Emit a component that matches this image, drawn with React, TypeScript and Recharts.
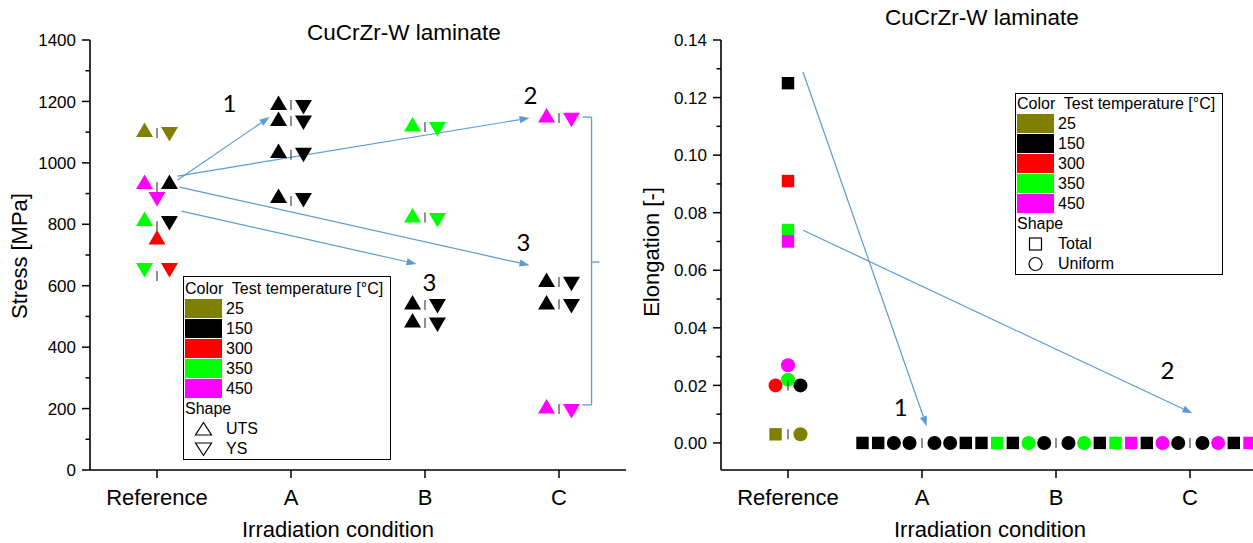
import React from 'react';
import { ScatterChart, Scatter, XAxis, YAxis, ReferenceLine, ReferenceDot } from 'recharts';

// ---------- categories / legend ----------
const conditions = ['Reference', 'A', 'B', 'C'];
const tempLabels = ['25', '150', '300', '350', '450'];
const tempColors = ['#808000', '#000000', '#FF0000', '#00FF00', '#FF00FF'];
const stressTicks = [0, 100, 200, 300, 400, 500, 600, 700, 800, 900, 1000, 1100, 1200, 1300, 1400];
const elongTicks = [0, 0.01, 0.02, 0.03, 0.04, 0.05, 0.06, 0.07, 0.08, 0.09, 0.1, 0.11, 0.12, 0.13, 0.14];

// [condition, slot within the category, value]
type P = [string, number, number];

// ---------- Stress (UTS = up triangle, YS = down triangle) ----------
const uts25: P[] = [['Reference', -1, 1107]];
const ys25: P[] = [['Reference', 1, 1094]];
const uts150: P[] = [
  ['Reference', 1, 938], ['A', -1, 1195], ['A', -1, 1143], ['A', -1, 1039], ['A', -1, 892],
  ['B', -1, 545], ['B', -1, 487], ['C', -1, 619], ['C', -1, 545],
];
const ys150: P[] = [
  ['Reference', 1, 804], ['A', 1, 1182], ['A', 1, 1131], ['A', 1, 1026], ['A', 1, 879],
  ['B', 1, 534], ['B', 1, 474], ['C', 1, 606], ['C', 1, 534],
];
const uts300: P[] = [['Reference', 0, 757]];
const ys300: P[] = [['Reference', 1, 651]];
const uts350: P[] = [['Reference', -1, 817], ['B', -1, 1125], ['B', -1, 829]];
const ys350: P[] = [['Reference', -1, 651], ['B', 1, 1110], ['B', 1, 814]];
const uts450: P[] = [['Reference', -1, 938], ['C', -1, 1154], ['C', -1, 207]];
const ys450: P[] = [['Reference', 0, 882], ['C', 1, 1140], ['C', 1, 192]];
const stressSeparators: P[] = [
  ['Reference', 0, 1097], ['Reference', 0, 921], ['Reference', 0, 794], ['Reference', 0, 632],
  ['A', 0, 1188], ['A', 0, 1136], ['A', 0, 1026], ['A', 0, 876],
  ['B', 0, 1117], ['B', 0, 822], ['B', 0, 537], ['B', 0, 479],
  ['C', 0, 1146], ['C', 0, 612], ['C', 0, 540], ['C', 0, 199],
];

// ---------- Elongation (Total = square, Uniform = circle) ----------
const total25: P[] = [['Reference', -1, 0.003]];
const uniform25: P[] = [['Reference', 1, 0.003]];
const total150: P[] = [
  ['Reference', 0, 0.125], ['A', -4, 0], ['A', -3, 0], ['A', 3, 0], ['A', 4, 0], ['A', 6, 0],
  ['B', 3, 0], ['B', 6, 0], ['C', 3, 0],
];
const uniform150: P[] = [
  ['Reference', 1, 0.02], ['A', -2, 0], ['A', -1, 0], ['A', 1, 0], ['A', 2, 0], ['A', 8, 0],
  ['B', 1, 0], ['B', 8, 0], ['C', 1, 0],
];
const total300: P[] = [['Reference', 0, 0.091]];
const uniform300: P[] = [['Reference', -1, 0.02]];
const total350: P[] = [['Reference', 0, 0.074], ['A', 5, 0], ['B', 4, 0]];
const uniform350: P[] = [['Reference', 0, 0.022], ['A', 7, 0], ['B', 2, 0]];
const total450: P[] = [['Reference', 0, 0.07], ['B', 5, 0], ['C', 4, 0]];
const uniform450: P[] = [['Reference', 0, 0.027], ['B', 7, 0], ['C', 2, 0]];
const elongSeparators: P[] = [
  ['Reference', 0, 0.02], ['Reference', 0, 0.003], ['A', 0, 0], ['B', 0, 0], ['C', 0, 0],
];

// ---------- annotations (data units) ----------
const stressArrows = [
  [1.153, 944, 1.84, 1149],
  [1.153, 957, 3.78, 1146],
  [1.168, 921, 3.78, 667],
  [1.183, 843, 2.937, 671],
];
const stressNotes: [number, number, string][] = [
  [1.54, 1192, '1'], [3.787, 1218, '2'], [3.735, 742, '3'], [3.034, 612, '3'],
];
const stressBracket = [
  [4.175, 1149, 4.243, 1149],
  [4.243, 1149, 4.243, 212],
  [4.175, 212, 4.243, 212],
  [4.243, 677, 4.302, 677],
];
const elongArrows = [
  [1.112, 0.1289, 2.035, 0.0058],
  [1.112, 0.0739, 4.018, 0.0103],
];
const elongNotes: [number, number, string][] = [
  [1.842, 0.0124, '1'], [3.832, 0.0253, '2'],
];

// ---------- helpers ----------
const FONT = '"Liberation Sans", Arial, sans-serif';
const BLUE = '#5B9BD5';
const slotOffset = (s: number) => (s === 0 ? 0 : Math.sign(s) * (0.093 + 0.117 * (Math.abs(s) - 1)));
const toPts = (arr: P[]) =>
  arr.map(([c, s, v]) => ({ x: conditions.indexOf(c) + 1 + slotOffset(s), y: v }));

const upTri = (color: string) => (p: any) => (
  <polygon
    points={`${p.cx},${p.cy - 7.5} ${p.cx - 8.5},${p.cy + 7} ${p.cx + 8.5},${p.cy + 7}`}
    fill={color}
  />
);
const downTri = (color: string) => (p: any) => (
  <polygon
    points={`${p.cx - 8.5},${p.cy - 7} ${p.cx + 8.5},${p.cy - 7} ${p.cx},${p.cy + 7.5}`}
    fill={color}
  />
);
const square = (color: string) => (p: any) => (
  <rect x={p.cx - 6.2} y={p.cy - 6.2} width={12.4} height={12.4} fill={color} />
);
const circle = (color: string) => (p: any) => <circle cx={p.cx} cy={p.cy} r={7} fill={color} />;
const bar = (p: any) => (
  <line x1={p.cx} x2={p.cx} y1={p.cy - 5} y2={p.cy + 5} stroke="#555" strokeWidth={1.3} />
);

const arrowShape = (p: any) => {
  const { x1, y1, x2, y2 } = p;
  const a = Math.atan2(y2 - y1, x2 - x1);
  const L = 10;
  const W = 3.6;
  const bx = x2 - L * Math.cos(a);
  const by = y2 - L * Math.sin(a);
  const px = -Math.sin(a) * W;
  const py = Math.cos(a) * W;
  return (
    <g>
      <line x1={x1} y1={y1} x2={bx} y2={by} stroke={BLUE} strokeWidth={1.2} />
      <polygon points={`${x2},${y2} ${bx + px},${by + py} ${bx - px},${by - py}`} fill={BLUE} />
    </g>
  );
};
const plainLine = (p: any) => (
  <line x1={p.x1} y1={p.y1} x2={p.x2} y2={p.y2} stroke={BLUE} strokeWidth={1.3} />
);
const noteShape = (txt: string) => (p: any) => (
  <text
    x={p.cx}
    y={p.cy + 8.5}
    textAnchor="middle"
    fontSize={24}
    fontFamily="Lato, 'Noto Sans', sans-serif"
    fill="#000"
  >
    {txt}
  </text>
);

const makeYTick = (isMajor: (v: number) => boolean, fmt: (v: number) => string) => (props: any) => {
  const { x, y, payload } = props;
  const v = payload.value;
  const major = isMajor(v);
  return (
    <g>
      <line x1={x - (major ? 8 : 4.5)} x2={x} y1={y} y2={y} stroke="#000" strokeWidth={1.5} />
      {major && (
        <text x={x - 14} y={y} dy="0.36em" textAnchor="end" fontSize={17} fontFamily={FONT} fill="#000">
          {fmt(v)}
        </text>
      )}
    </g>
  );
};
const StressTick = makeYTick((v) => v % 200 === 0, (v) => String(v));
const ElongTick = makeYTick((v) => Math.round(v * 100) % 2 === 0, (v) => v.toFixed(2));

const CondTick = (props: any) => {
  const { x, y, payload } = props;
  return (
    <g>
      <line x1={x} x2={x} y1={y} y2={y + 8} stroke="#000" strokeWidth={1.5} />
      <text x={x} y={y + 35} textAnchor="middle" fontSize={22} fontFamily={FONT} fill="#000">
        {conditions[payload.value - 1]}
      </text>
    </g>
  );
};

const axisLine = { stroke: '#000', strokeWidth: 1.6 };

const Txt = ({ x, y, size, children, rotate }: any) => (
  <div
    style={{
      position: 'absolute',
      left: x,
      top: y,
      fontSize: size,
      lineHeight: 1,
      whiteSpace: 'nowrap',
      transform: `translate(-50%, -50%)${rotate ? ' rotate(-90deg)' : ''}`,
      color: '#000',
    }}
  >
    {children}
  </div>
);

const LegendBox = ({ left, top, padTop, shapes }: any) => (
  <div
    style={{
      position: 'absolute',
      left,
      top,
      width: 208,
      boxSizing: 'border-box',
      border: '1px solid #000',
      background: '#fff',
      paddingTop: padTop,
      paddingLeft: 1,
      fontSize: 16,
      lineHeight: '20px',
      color: '#000',
    }}
  >
    <div style={{ height: 20, whiteSpace: 'pre' }}>{'Color  Test temperature [°C]'}</div>
    {tempLabels.map((t, i) => (
      <div key={t} style={{ display: 'flex', height: 20 }}>
        <div style={{ width: 37, height: 19, background: tempColors[i], marginRight: 4 }} />
        <span>{t}</span>
      </div>
    ))}
    <div style={{ height: 20 }}>Shape</div>
    {shapes.map(([label, icon]: any) => (
      <div key={label} style={{ display: 'flex', height: 20 }}>
        <svg width={37} height={20} style={{ marginRight: 4 }}>
          {icon}
        </svg>
        <span>{label}</span>
      </div>
    ))}
  </div>
);

const stressSeries: [P[], string, boolean][] = [
  [uts25, tempColors[0], true], [ys25, tempColors[0], false],
  [uts150, tempColors[1], true], [ys150, tempColors[1], false],
  [uts300, tempColors[2], true], [ys300, tempColors[2], false],
  [uts350, tempColors[3], true], [ys350, tempColors[3], false],
  [uts450, tempColors[4], true], [ys450, tempColors[4], false],
];
const elongSeries: [P[], string, boolean][] = [
  [total25, tempColors[0], true], [uniform25, tempColors[0], false],
  [total150, tempColors[1], true], [uniform150, tempColors[1], false],
  [total300, tempColors[2], true], [uniform300, tempColors[2], false],
  [total350, tempColors[3], true], [uniform350, tempColors[3], false],
  [total450, tempColors[4], true], [uniform450, tempColors[4], false],
];

export default function App() {
  return (
    <div
      style={{
        position: 'absolute',
        left: 0,
        top: 0,
        width: 1253,
        height: 543,
        overflow: 'hidden',
        background: '#fff',
        fontFamily: FONT,
      }}
    >
      {/* Left chart: stress */}
      <div style={{ position: 'absolute', left: 0, top: 0 }}>
        <ScatterChart width={640} height={543} margin={{ top: 40, right: 14, bottom: 0, left: 0 }}>
          <XAxis
            type="number"
            dataKey="x"
            domain={[0.5, 4.5]}
            ticks={[1, 2, 3, 4]}
            interval={0}
            height={73}
            tickSize={0}
            tickMargin={0}
            tickLine={false}
            axisLine={axisLine}
            tick={CondTick}
            allowDataOverflow
          />
          <YAxis
            type="number"
            dataKey="y"
            domain={[0, 1400]}
            ticks={stressTicks}
            interval={0}
            width={90}
            tickSize={0}
            tickMargin={0}
            tickLine={false}
            axisLine={axisLine}
            tick={StressTick}
            allowDataOverflow
          />
          {stressArrows.map((a, i) => (
            <ReferenceLine
              key={'sa' + i}
              segment={[{ x: a[0], y: a[1] }, { x: a[2], y: a[3] }]}
              ifOverflow="visible"
              shape={arrowShape}
            />
          ))}
          {stressBracket.map((a, i) => (
            <ReferenceLine
              key={'sb' + i}
              segment={[{ x: a[0], y: a[1] }, { x: a[2], y: a[3] }]}
              ifOverflow="visible"
              shape={plainLine}
            />
          ))}
          {stressSeries.map(([arr, color, up], i) => (
            <Scatter
              key={'ss' + i}
              data={toPts(arr)}
              shape={up ? upTri(color) : downTri(color)}
              isAnimationActive={false}
            />
          ))}
          <Scatter data={toPts(stressSeparators)} shape={bar} isAnimationActive={false} />
          {stressNotes.map(([x, y, t], i) => (
            <ReferenceDot key={'sn' + i} x={x} y={y} r={0} ifOverflow="visible" shape={noteShape(t)} />
          ))}
        </ScatterChart>
      </div>

      {/* Right chart: elongation */}
      <div style={{ position: 'absolute', left: 621, top: 0 }}>
        <ScatterChart width={646} height={543} margin={{ top: 40, right: 10, bottom: 0, left: 0 }}>
          <XAxis
            type="number"
            dataKey="x"
            domain={[0.5, 4.5]}
            ticks={[1, 2, 3, 4]}
            interval={0}
            height={73}
            tickSize={0}
            tickMargin={0}
            tickLine={false}
            axisLine={axisLine}
            tick={CondTick}
            allowDataOverflow
          />
          <YAxis
            type="number"
            dataKey="y"
            domain={[-0.0094, 0.14]}
            ticks={elongTicks}
            interval={0}
            width={100}
            tickSize={0}
            tickMargin={0}
            tickLine={false}
            axisLine={axisLine}
            tick={ElongTick}
            allowDataOverflow
          />
          {elongArrows.map((a, i) => (
            <ReferenceLine
              key={'ea' + i}
              segment={[{ x: a[0], y: a[1] }, { x: a[2], y: a[3] }]}
              ifOverflow="visible"
              shape={arrowShape}
            />
          ))}
          {elongSeries.map(([arr, color, sq], i) => (
            <Scatter
              key={'es' + i}
              data={toPts(arr)}
              shape={sq ? square(color) : circle(color)}
              isAnimationActive={false}
            />
          ))}
          <Scatter data={toPts(elongSeparators)} shape={bar} isAnimationActive={false} />
          {elongNotes.map(([x, y, t], i) => (
            <ReferenceDot key={'en' + i} x={x} y={y} r={0} ifOverflow="visible" shape={noteShape(t)} />
          ))}
        </ScatterChart>
      </div>

      {/* Titles and axis titles */}
      <Txt x={404} y={33} size={22.5}>CuCrZr-W laminate</Txt>
      <Txt x={982} y={18} size={22.5}>CuCrZr-W laminate</Txt>
      <Txt x={338} y={530} size={22}>Irradiation condition</Txt>
      <Txt x={990} y={530} size={22}>Irradiation condition</Txt>
      <Txt x={20} y={256} size={22} rotate>Stress [MPa]</Txt>
      <Txt x={652} y={252} size={22} rotate>Elongation [-]</Txt>

      {/* Legends */}
      <LegendBox
        left={183}
        top={276}
        padTop={2}
        shapes={[
          ['UTS', <polygon key="u" points="18.5,3.5 10.5,16 26.5,16" fill="none" stroke="#000" strokeWidth={1.2} />],
          ['YS', <polygon key="d" points="10.5,4 26.5,4 18.5,16.5" fill="none" stroke="#000" strokeWidth={1.2} />],
        ]}
      />
      <LegendBox
        left={1015}
        top={93}
        padTop={0}
        shapes={[
          ['Total', <rect key="s" x={12.5} y={4} width={12} height={12} fill="none" stroke="#000" strokeWidth={1.2} />],
          ['Uniform', <circle key="c" cx={18.5} cy={10} r={6.5} fill="none" stroke="#000" strokeWidth={1.2} />],
        ]}
      />
    </div>
  );
}
